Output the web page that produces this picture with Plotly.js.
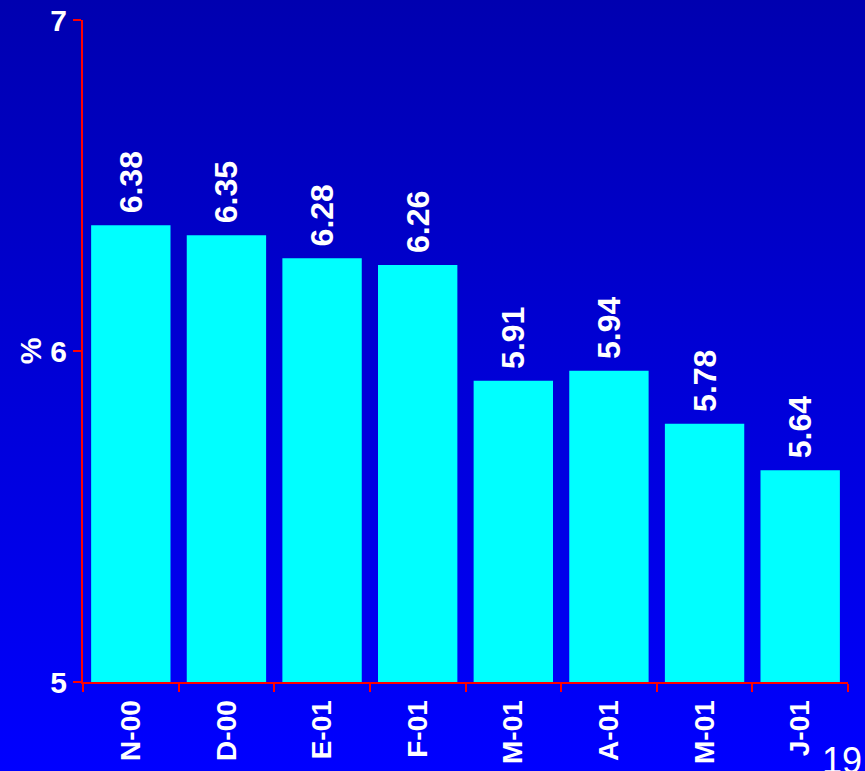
<!DOCTYPE html>
<html>
<head>
<meta charset="utf-8">
<script src="https://cdn.plot.ly/plotly-3.0.1.min.js"></script>
<style>
  html, body { margin: 0; padding: 0; }
  body { width: 865px; height: 771px; overflow: hidden;
         background: linear-gradient(to bottom, #0000b0 0%, #0000ff 100%); }
  #chart { width: 865px; height: 771px; }
</style>
</head>
<body>
<div id="chart"></div>
<script>
const categories = ['N-00', 'D-00', 'E-01', 'F-01', 'M-01', 'A-01', 'M-01', 'J-01'];
const values = [6.38, 6.35, 6.28, 6.26, 5.91, 5.94, 5.78, 5.64];
const yTicks = [5, 6, 7];
const pageNumber = '19';

const xIdx = categories.map((c, i) => String(i));
const FONT = 'Liberation Sans, Arial, sans-serif';

const trace = {
  type: 'bar',
  x: xIdx,
  y: values,
  marker: { color: '#00ffff', line: { width: 0 } },
  width: 0.83,
  text: values.map(v => '\u00a0' + v.toFixed(2)),
  textposition: 'outside',
  textangle: -90,
  cliponaxis: false,
  textfont: { family: FONT, size: 32, color: '#ffffff', weight: 'bold' },
  hoverinfo: 'skip'
};

const layout = {
  width: 865, height: 771,
  margin: { l: 83, r: 17, t: 20, b: 89 },
  paper_bgcolor: 'rgba(0,0,0,0)',
  plot_bgcolor: 'rgba(0,0,0,0)',
  showlegend: false,
  font: { family: FONT, color: '#ffffff' },
  xaxis: {
    type: 'category',
    tickmode: 'array',
    tickvals: xIdx,
    ticktext: categories,
    tickson: 'boundaries',
    range: [-0.5, categories.length - 0.5],
    showline: true, linecolor: '#ff0000', linewidth: 2,
    ticks: 'outside', ticklen: 8, tickwidth: 2, tickcolor: '#ff0000',
    tickangle: -90,
    ticklabelstandoff: 5,
    tickfont: { family: FONT, size: 28, color: '#ffffff', weight: 'bold' },
    showgrid: false, zeroline: false, fixedrange: true
  },
  yaxis: {
    range: [5, 7],
    tickmode: 'array',
    tickvals: yTicks,
    ticktext: yTicks.map(String),
    showline: true, linecolor: '#ff0000', linewidth: 2,
    ticks: 'outside', ticklen: 8, tickwidth: 2, tickcolor: '#ff0000',
    tickfont: { family: FONT, size: 30, color: '#ffffff', weight: 'bold' },
    title: { text: '%', font: { family: FONT, size: 30, color: '#ffffff', weight: 'bold' }, standoff: 0 },
    showgrid: false, zeroline: false, fixedrange: true
  },
  annotations: [{
    text: pageNumber,
    xref: 'paper', yref: 'paper',
    x: 0.963, y: -0.085,
    xanchor: 'left', yanchor: 'top',
    showarrow: false,
    font: { family: FONT, size: 36, color: '#ffffff' }
  }]
};

Plotly.newPlot('chart', [trace], layout, { displayModeBar: false, staticPlot: true });
</script>
</body>
</html>
